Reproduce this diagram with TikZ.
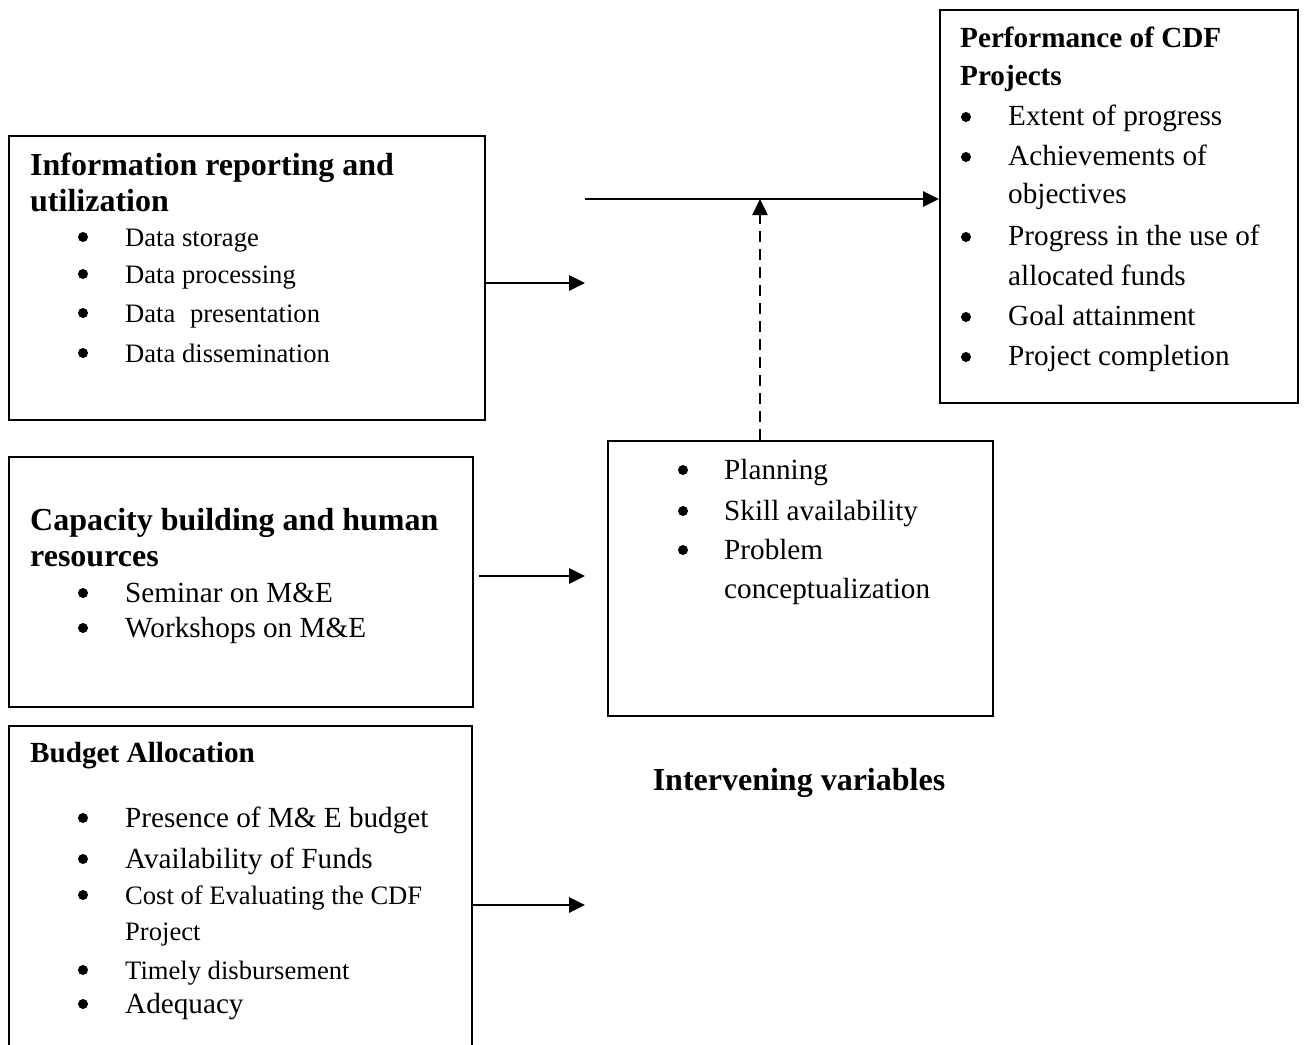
\documentclass[tikz,border=0pt]{standalone}
\usepackage{fontspec}
\setmainfont{Liberation Serif}
\usetikzlibrary{arrows.meta}
\tikzset{
  box/.style={draw=black, line width=2pt, rectangle, anchor=north west, inner sep=0pt},
  ttl/.style={anchor=base west, inner sep=0pt, font=\fontsize{32}{36}\selectfont\bfseries},
  ttlm/.style={anchor=base west, inner sep=0pt, font=\fontsize{29.2}{34}\selectfont\bfseries},
  itl/.style={anchor=base west, inner sep=0pt, font=\fontsize{29.2}{34}\selectfont},
  its/.style={anchor=base west, inner sep=0pt, font=\fontsize{26.6}{30}\selectfont},
  bul/.style={circle, fill=black, inner sep=0pt, minimum size=10pt, yshift=9pt},
  arr/.style={line width=2.8pt, -{Triangle[length=16pt,width=15pt]}},
  dsh/.style={line width=2.5pt, dash pattern=on 11pt off 7pt, -{Triangle[length=16pt,width=15pt]}}
}
\begin{document}
\begin{tikzpicture}[x=1pt,y=-1pt]
\useasboundingbox (0,0) rectangle (1306,1044);
\clip (0,0) rectangle (1306,1044);
% boxes
\node[box, minimum width=476pt, minimum height=284pt] (b1) at (8,135) {};
\node[box, minimum width=464pt, minimum height=250pt] (b2) at (8,456) {};
\node[box, minimum width=463pt, minimum height=340pt] (b3) at (8,725) {};
\node[box, minimum width=385pt, minimum height=275pt] (iv) at (607,440) {};
\node[box, minimum width=358pt, minimum height=393pt] (pf) at (939,9) {};
% box 1
\node[ttl] (t1a) at (30,175) {Information reporting and};
\node[ttl] (t1b) at (30,211) {utilization};
\node[bul] (u1) at (83,246) {}; \node[its] (i1) at (125,246) {Data storage};
\node[bul] (u2) at (83,283) {}; \node[its] (i2) at (125,283) {Data processing};
\node[bul] (u3) at (83,322) {}; \node[its] (i3) at (125,322) {Data\hspace{0.55em}presentation};
\node[bul] (u4) at (83,362) {}; \node[its] (i4) at (125,362) {Data dissemination};
% box 2
\node[ttl] (t2a) at (30,530) {Capacity building and human};
\node[ttl] (t2b) at (30,566) {resources};
\node[bul] (v1) at (83,602) {}; \node[itl] (j1) at (125,602) {Seminar on M\&E};
\node[bul] (v2) at (83,637) {}; \node[itl] (j2) at (125,637) {Workshops on M\&E};
% box 3
\node[ttlm] (t3) at (30,762) {Budget Allocation};
\node[bul] (w1) at (83,827) {}; \node[itl] (k1) at (125,827) {Presence of M\& E budget};
\node[bul] (w2) at (83,868) {}; \node[itl] (k2) at (125,868) {Availability of Funds};
\node[bul] (w3) at (83,904) {}; \node[its] (k3) at (125,904) {Cost of Evaluating the CDF};
\node[its] (k4) at (125,940) {Project};
\node[bul] (w5) at (83,979) {}; \node[its] (k5) at (125,979) {Timely disbursement};
\node[bul] (w6) at (83,1013) {}; \node[itl] (k6) at (125,1013) {Adequacy};
% intervening box
\node[bul] (x1) at (683,479) {}; \node[itl] (l1) at (724,479) {Planning};
\node[bul] (x2) at (683,520) {}; \node[itl] (l2) at (724,520) {Skill availability};
\node[bul] (x3) at (683,559) {}; \node[itl] (l3) at (724,559) {Problem};
\node[itl] (l4) at (724,598) {conceptualization};
\node[ttl, anchor=base] (ivt) at (799,790) {Intervening variables};
% performance box
\node[ttlm] (p0a) at (960,47) {Performance of CDF};
\node[ttlm] (p0b) at (960,85) {Projects};
\node[bul] (y1) at (966,126) {}; \node[itl] (p1) at (1008,125) {Extent of progress};
\node[bul] (y2) at (966,166) {}; \node[itl] (p2) at (1008,165) {Achievements of};
\node[itl] (p3) at (1008,203) {objectives};
\node[bul] (y4) at (966,246) {}; \node[itl] (p4) at (1008,245) {Progress in the use of};
\node[itl] (p5) at (1008,285) {allocated funds};
\node[bul] (y6) at (966,326) {}; \node[itl] (p6) at (1008,325) {Goal attainment};
\node[bul] (y7) at (966,366) {}; \node[itl] (p7) at (1008,365) {Project completion};
% connectors
\coordinate (e1) at (585,283);
\coordinate (e2) at (585,576);
\coordinate (e3) at (585,905);
\coordinate (hs) at (585,199);
\coordinate (hm) at (760,199);
\coordinate (ivn) at (760,440);
\draw[arr] (b1.east |- e1) -- (e1);
\draw[arr] ([xshift=5pt]b2.east |- e2) -- (e2);
\draw[arr] (b3.east |- e3) -- (e3);
\draw[arr] (hs) -- (pf.west |- hs);
\draw[dsh] (ivn) -- (hm);
\end{tikzpicture}
\end{document}
